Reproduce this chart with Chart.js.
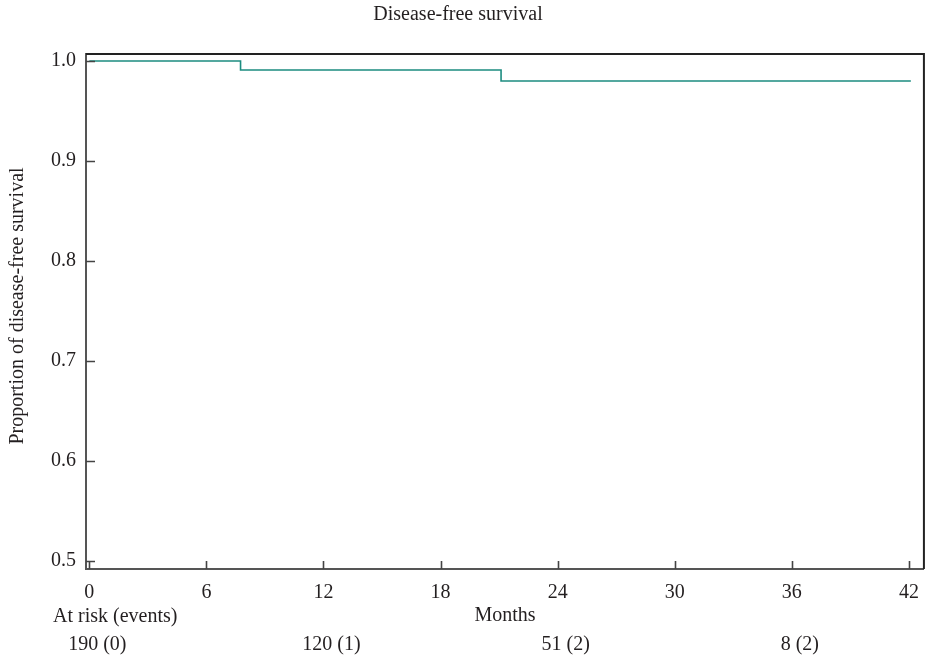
<!DOCTYPE html>
<html>
<head>
<meta charset="utf-8">
<script src="https://cdn.jsdelivr.net/npm/chart.js@4"></script>
<style>
  body { margin: 0; background: #fff; }
  #wrap { width: 931px; height: 656px; }
</style>
</head>
<body>
<div id="wrap"><canvas id="kmChart"></canvas></div>
<script>
// survival curve (step drops)
const months = [0, 7.75, 21.1, 42.1];
const survival = [1.0, 0.991, 0.98, 0.98];

// axis ticks
const xTicks = [0, 6, 12, 18, 24, 30, 36, 42];
const yTicks = [0.5, 0.6, 0.7, 0.8, 0.9, 1.0];

// number at risk table
const riskMonths = [0, 12, 24, 36];
const riskLabels = ["190 (0)", "120 (1)", "51 (2)", "8 (2)"];

const FONT = "Liberation Serif";
const TEXT = "#231f20";

// ticks inside the frame, top/right frame lines, extra texts
const extras = {
    id: "extras",
    afterDraw(chart) {
        const ctx = chart.ctx;
        const a = chart.chartArea;
        const xs = chart.scales.x, ys = chart.scales.y;
        ctx.save();
        // top + right frame
        ctx.strokeStyle = "#222";
        ctx.lineWidth = 2;
        ctx.beginPath();
        ctx.moveTo(a.left, a.top);
        ctx.lineTo(a.right, a.top);
        ctx.lineTo(a.right, a.bottom);
        ctx.stroke();
        // inward ticks
        ctx.strokeStyle = "#444";
        ctx.lineWidth = 1.6;
        ctx.beginPath();
        xTicks.forEach(v => {
            const px = Math.round(xs.getPixelForValue(v)) + 0.5;
            ctx.moveTo(px, a.bottom);
            ctx.lineTo(px, a.bottom - 8);
        });
        yTicks.forEach(v => {
            const py = Math.round(ys.getPixelForValue(v)) + 0.5;
            ctx.moveTo(a.left, py);
            ctx.lineTo(a.left + 9, py);
        });
        ctx.stroke();

        ctx.fillStyle = TEXT;
        ctx.font = "20px '" + FONT + "'";
        ctx.textBaseline = "middle";
        ctx.textAlign = "center";
        ctx.fillText("Disease-free survival", 458, 15);
        ctx.fillText("Months", (a.left + a.right) / 2, 616);
        riskMonths.forEach((m, i) => {
            ctx.fillText(riskLabels[i], xs.getPixelForValue(m) + 8, 645);
        });
        ctx.textAlign = "left";
        ctx.fillText("At risk (events)", 53, 617);
        // y axis title
        ctx.save();
        ctx.translate(18, 306);
        ctx.rotate(-Math.PI / 2);
        ctx.textAlign = "center";
        ctx.fillText("Proportion of disease-free survival", 0, 0);
        ctx.restore();
        ctx.restore();
    }
};

new Chart(document.getElementById("kmChart"), {
    type: "line",
    data: {
        datasets: [{
            data: months.map((m, i) => ({ x: m, y: survival[i] })),
            stepped: true,
            borderColor: "#1c8c80",
            borderWidth: 1.6,
            pointRadius: 0,
            fill: false,
        }]
    },
    options: {
        responsive: true,
        maintainAspectRatio: false,
        animation: false,
        layout: { padding: { top: 54, right: 6, left: 0, bottom: 0 } },
        plugins: {
            legend: { display: false },
            tooltip: { enabled: false },
        },
        scales: {
            x: {
                type: "linear",
                min: -0.17,
                max: 42.77,
                afterBuildTicks: s => { s.ticks = xTicks.map(v => ({ value: v })); },
                afterFit: s => { s.height = 87; },
                grid: { display: false, drawTicks: false },
                border: { display: true, color: "#555", width: 2 },
                ticks: {
                    font: { family: FONT, size: 20 },
                    color: TEXT,
                    padding: 12,
                    maxRotation: 0,
                    autoSkip: false,
                },
            },
            y: {
                type: "linear",
                min: 0.492,
                max: 1.007,
                afterBuildTicks: s => { s.ticks = yTicks.map(v => ({ value: v })); },
                afterFit: s => { s.width = 86; },
                grid: { display: false, drawTicks: false },
                border: { display: true, color: "#555", width: 2 },
                ticks: {
                    font: { family: FONT, size: 20 },
                    color: TEXT,
                    padding: 10,
                    callback: v => v.toFixed(1),
                },
            },
        },
    },
    plugins: [extras],
});
</script>
</body>
</html>
